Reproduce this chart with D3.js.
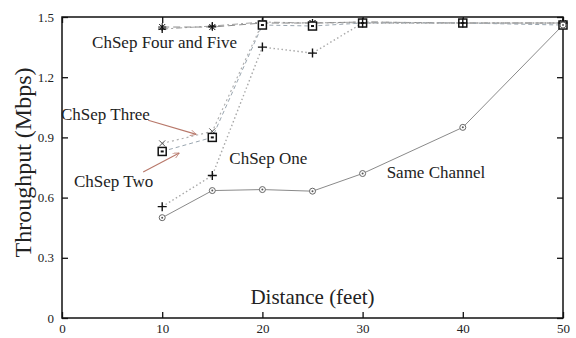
<!DOCTYPE html>
<html>
<head>
<meta charset="utf-8">
<script src="https://cdn.jsdelivr.net/npm/d3@7/dist/d3.min.js"></script>
<style>
  html, body { margin: 0; padding: 0; background: #fff; }
  svg { display: block; }
  text { font-family: "Liberation Serif", "DejaVu Serif", serif; fill: #222; }
</style>
</head>
<body>
<svg id="chart" width="576" height="338"></svg>
<script>
// Throughput versus distance for each channel-separation setup
const distances = [10, 15, 20, 25, 30, 40, 50];
const sameChannel = [0.50, 0.635, 0.64, 0.632, 0.72, 0.95, 1.46];
const chSepOne = [0.555, 0.71, 1.35, 1.32, 1.47, 1.47, 1.47];
const chSepTwo = [0.87, 0.93, 1.47, 1.47, 1.47, 1.47, 1.47];
const chSepThree = [0.83, 0.90, 1.46, 1.455, 1.47, 1.47, 1.46];
const chSepFour = [1.45, 1.45, 1.47, 1.47, 1.475, 1.47, 1.47];
const chSepFive = [1.44, 1.455, 1.475, 1.47, 1.475, 1.47, 1.47];

const xTicks = [0, 10, 20, 30, 40, 50];
const yTicks = [0, 0.3, 0.6, 0.9, 1.2, 1.5];
const yTickLabels = ["0", "0.3", "0.6", "0.9", "1.2", "1.5"];

// Text labels placed in data coordinates [x, y, text]
const labels = [
  [3.0, 1.345, "ChSep Four and Five"],
  [-0.1, 0.987, "ChSep Three"],
  [1.2, 0.653, "ChSep Two"],
  [16.7, 0.767, "ChSep One"],
  [32.4, 0.698, "Same Channel"]
];
// Arrows [x1, y1, x2, y2] in data coordinates
const arrows = [
  [8.6, 0.985, 13.4, 0.915],
  [8.1, 0.728, 11.7, 0.822]
];

const svg = d3.select("#chart");
const m = { left: 62, right: 13, top: 17, bottom: 20 };
const W = 576, H = 338;
const x = d3.scaleLinear().domain([0, 50]).range([m.left, W - m.right]);
const y = d3.scaleLinear().domain([0, 1.5]).range([H - m.bottom, m.top]);

const defs = svg.append("defs");
defs.append("marker")
  .attr("id", "arrowhead")
  .attr("viewBox", "0 0 10 10")
  .attr("refX", 10).attr("refY", 5)
  .attr("markerWidth", 9).attr("markerHeight", 6)
  .attr("markerUnits", "userSpaceOnUse")
  .attr("orient", "auto")
  .append("path")
  .attr("d", "M0,0 L10,5 L0,10")
  .attr("fill", "none")
  .attr("stroke", "#b8786a")
  .attr("stroke-width", 1.2);

// Axes with inward ticks, mirrored on top and right
const tickLen = 6;
const gx = svg.append("g").attr("transform", `translate(0,${y(0)})`)
  .call(d3.axisBottom(x).tickValues(xTicks).tickSize(-tickLen).tickPadding(6).tickFormat(d3.format("d")));
const gxTop = svg.append("g").attr("transform", `translate(0,${y(1.5)})`)
  .call(d3.axisTop(x).tickValues(xTicks).tickSize(-tickLen).tickFormat(""));
const gy = svg.append("g").attr("transform", `translate(${x(0)},0)`)
  .call(d3.axisLeft(y).tickValues(yTicks).tickSize(-tickLen).tickPadding(8)
    .tickFormat((d, i) => yTickLabels[i]));
const gyRight = svg.append("g").attr("transform", `translate(${x(50)},0)`)
  .call(d3.axisRight(y).tickValues(yTicks).tickSize(-tickLen).tickFormat(""));

[gx, gxTop, gy, gyRight].forEach(g => {
  g.select(".domain").remove();
  g.selectAll(".tick line").attr("stroke", "#111").attr("stroke-width", 1.3);
  g.selectAll(".tick text").attr("font-size", 13).attr("fill", "#333")
    .attr("font-family", "Liberation Serif, serif");
});

svg.append("rect")
  .attr("x", x(0)).attr("y", y(1.5))
  .attr("width", x(50) - x(0)).attr("height", y(0) - y(1.5))
  .attr("fill", "none").attr("stroke", "#111").attr("stroke-width", 1.5);

// Series lines
const line = d3.line().x((d, i) => x(distances[i])).y(d => y(d));
const seriesDefs = [
  { v: chSepFive, color: "#a0a0a0", dash: "6,3,2,3", width: 1 },
  { v: chSepFour, color: "#8c8c8c", dash: "7,4", width: 1 },
  { v: chSepThree, color: "#9aa6b0", dash: "4,3", width: 1 },
  { v: chSepTwo, color: "#b0b0b0", dash: "2,3", width: 1.2 },
  { v: chSepOne, color: "#a8a8a8", dash: "1.5,2.5", width: 1.4 },
  { v: sameChannel, color: "#8a8a8a", dash: null, width: 1 }
];
seriesDefs.forEach(s => {
  svg.append("path").datum(s.v)
    .attr("d", line)
    .attr("fill", "none")
    .attr("stroke", s.color)
    .attr("stroke-width", s.width)
    .attr("stroke-dasharray", s.dash);
});

// Markers
const mk = svg.append("g").attr("stroke", "#111").attr("fill", "none");
function plus(px, py, r) { return `M${px - r},${py}H${px + r}M${px},${py - r}V${py + r}`; }
function cross(px, py, r) { return `M${px - r},${py - r}L${px + r},${py + r}M${px - r},${py + r}L${px + r},${py - r}`; }

// ChSep Five: plus
mk.selectAll(".p5").data(chSepFive).join("path")
  .attr("d", (d, i) => plus(x(distances[i]), y(d), 4)).attr("stroke-width", 1.3);
// ChSep Four: star
mk.selectAll(".p4").data(chSepFour).join("path")
  .attr("d", (d, i) => plus(x(distances[i]), y(d), 4) + cross(x(distances[i]), y(d), 3))
  .attr("stroke-width", 1);
// ChSep Two: x
mk.selectAll(".p2").data(chSepTwo).join("path")
  .attr("d", (d, i) => cross(x(distances[i]), y(d), 3)).attr("stroke", "#555").attr("stroke-width", 1);
// ChSep Three: square with a dot
mk.selectAll(".p3").data(chSepThree).join("rect")
  .attr("x", (d, i) => x(distances[i]) - 4).attr("y", d => y(d) - 4)
  .attr("width", 8).attr("height", 8).attr("fill", "#fff").attr("stroke-width", 1.5);
mk.selectAll(".p3d").data(chSepThree).join("rect")
  .attr("x", (d, i) => x(distances[i]) - 1.5).attr("y", d => y(d) - 1)
  .attr("width", 3).attr("height", 2).attr("fill", "#111").attr("stroke", "none");
// ChSep One: plus
mk.selectAll(".p1").data(chSepOne).join("path")
  .attr("d", (d, i) => plus(x(distances[i]), y(d), 4.5)).attr("stroke-width", 1.4);
// Same Channel: circle with a dot
mk.selectAll(".p0").data(sameChannel).join("circle")
  .attr("cx", (d, i) => x(distances[i])).attr("cy", d => y(d)).attr("r", 3)
  .attr("fill", "#fff").attr("stroke", "#666").attr("stroke-width", 1);
mk.selectAll(".p0d").data(sameChannel).join("circle")
  .attr("cx", (d, i) => x(distances[i])).attr("cy", d => y(d)).attr("r", 1)
  .attr("fill", "#555").attr("stroke", "none");

// Annotation arrows
svg.append("g").selectAll("line").data(arrows).join("line")
  .attr("x1", d => x(d[0])).attr("y1", d => y(d[1]))
  .attr("x2", d => x(d[2])).attr("y2", d => y(d[3]))
  .attr("stroke", "#b8786a").attr("stroke-width", 1.1)
  .attr("marker-end", "url(#arrowhead)");

// Annotation labels
svg.append("g").selectAll("text").data(labels).join("text")
  .attr("x", d => x(d[0])).attr("y", d => y(d[1]))
  .attr("font-size", 17)
  .text(d => d[2]);

// Axis titles
svg.append("text")
  .attr("x", (x(0) + x(50)) / 2).attr("y", 304)
  .attr("text-anchor", "middle").attr("font-size", 21)
  .text("Distance (feet)");
svg.append("text")
  .attr("transform", `translate(31,${(y(0) + y(1.5)) / 2 - 5}) rotate(-90)`)
  .attr("text-anchor", "middle").attr("font-size", 24)
  .text("Throughput (Mbps)");
</script>
</body>
</html>
